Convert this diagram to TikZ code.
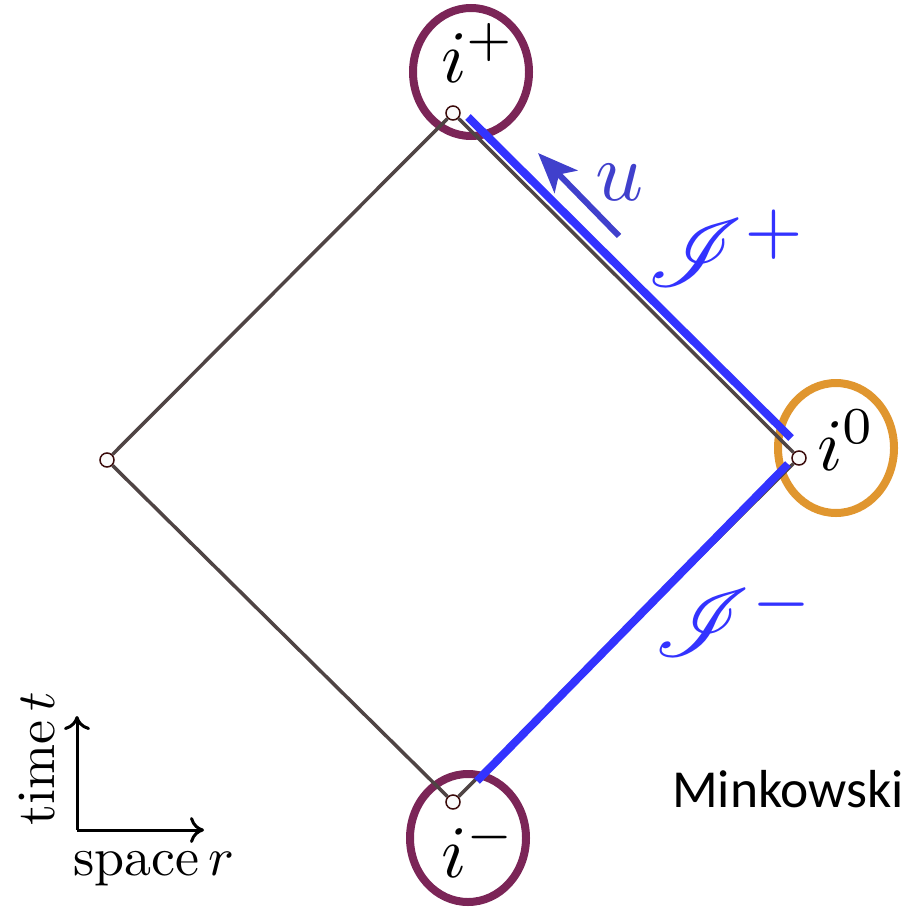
\documentclass[tikz,border=0pt]{standalone}
\usepackage{fontspec}
\newfontfamily\calibri{Carlito}
\usepackage{mathrsfs}
\usetikzlibrary{arrows.meta}
\definecolor{edgec}{HTML}{4F4444}
\definecolor{scri}{HTML}{3333FF}
\definecolor{purp}{HTML}{7B2557}
\definecolor{orng}{HTML}{E0962F}
\definecolor{arrowblue}{HTML}{4040CC}
\definecolor{vertc}{HTML}{3A0A0A}
\begin{document}
\begin{tikzpicture}[x=1pt,y=-1pt,
  vertex/.style={circle,draw=vertc,fill=white!96!gray,line width=1.5pt,inner sep=0pt,minimum size=14pt},
  diag/.style={draw=edgec,line width=3.5pt},
  scriline/.style={draw=scri,line width=8pt},
  horizon/.style={line width=8pt},
  mlabel/.style={inner sep=0pt,scale=7.4,anchor=base west},
  slabel/.style={inner sep=0pt,scale=9.6,anchor=base west,scri},
  axis/.style={line width=3pt,-{To[length=14pt,width=26pt,line width=3pt]}},
  axlabel/.style={inner sep=0pt,scale=5.4,anchor=base west}]
\useasboundingbox (0,0) rectangle (904,907);
% conformal boundary ellipses
\draw[purp,horizon] (471,72) ellipse [x radius=58, y radius=64];
\draw[orng,horizon] (836,448) ellipse [x radius=58, y radius=65];
\draw[purp,horizon] (468,838) ellipse [x radius=58, y radius=64];
% vertices
\node[vertex] (top) at (453,113) {};
\node[vertex] (right) at (799,458) {};
\node[vertex] (bottom) at (453,802) {};
\node[vertex] (left) at (107,460) {};
\draw[diag] (top) -- (right) -- (bottom) -- (left) -- (top);
% null infinity
\coordinate (sp1) at (468,117);
\coordinate (sp2) at (791,438);
\coordinate (sm1) at (788,464);
\coordinate (sm2) at (477,781);
\draw[scriline] (sp1) -- (sp2);
\draw[scriline] (sm1) -- (sm2);
% u arrow
\coordinate (ua) at (619,236);
\coordinate (ub) at (538,153);
\draw[arrowblue,line width=6pt,-{Stealth[length=40pt,width=32pt,inset=10pt]}] (ua) -- (ub);
\node[arrowblue,inner sep=0pt,scale=8.4,anchor=base west] (u) at (594,200) {$u$};
% labels
\node[mlabel] (ip) at (440,82) {$i^+$};
\node[mlabel] (i0) at (816,470) {$i^0$};
\node[mlabel] (im) at (440,877) {$i^-$};
\node[slabel] (scp) at (646,286) {$\mathscr{I}^+$};
\node[slabel] (scm) at (653,656) {$\mathscr{I}^-$};
% axes
\coordinate (o) at (77,830);
\coordinate (ot) at (77,716);
\coordinate (orr) at (204,830);
\draw[axis] (o) -- (ot);
\draw[axis] (o) -- (orr);
\node[axlabel] (sp) at (72,875) {space\,$r$};
\node[axlabel,rotate=90] (tm) at (54,827) {time\,$t$};
\node[inner sep=0pt,anchor=base west,font=\calibri\fontsize{53.5}{57}\selectfont] (mk) at (672,807) {Minkowski};
\end{tikzpicture}
\end{document}
